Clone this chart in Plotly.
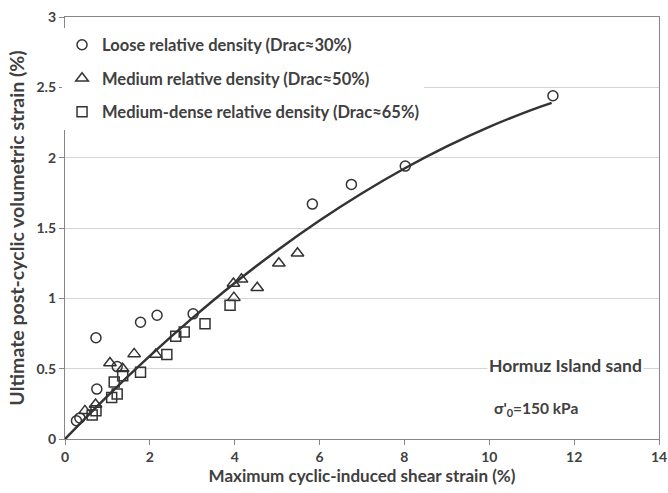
import plotly.graph_objects as go

# Loose relative density (Drac≈30%)
loose_x = [0.27, 0.35, 0.73, 0.75, 1.23, 1.78, 2.17, 3.02, 5.83, 6.75, 8.02, 11.50]
loose_y = [0.13, 0.15, 0.72, 0.355, 0.515, 0.83, 0.88, 0.89, 1.67, 1.81, 1.94, 2.44]

# Medium relative density (Drac≈50%)
medium_x = [0.47, 0.72, 1.06, 1.36, 1.63, 2.14, 3.97, 3.98, 4.16, 4.53, 5.04, 5.48]
medium_y = [0.20, 0.245, 0.54, 0.50, 0.605, 0.60, 1.105, 1.005, 1.135, 1.075, 1.25, 1.32]

# Medium-dense relative density (Drac≈65%)
dense_x = [0.64, 0.73, 1.10, 1.16, 1.23, 1.36, 1.78, 2.40, 2.61, 2.81, 3.30, 3.89]
dense_y = [0.17, 0.20, 0.295, 0.405, 0.32, 0.45, 0.475, 0.60, 0.73, 0.76, 0.82, 0.95]

# Trend curve
fit_x = [0, 1, 2, 3, 4, 5, 6, 7, 8, 9, 10, 11, 11.47]
fit_y = [0, 0.305, 0.591, 0.859, 1.109, 1.34, 1.553, 1.747, 1.923, 2.08, 2.219, 2.34, 2.39]

names = ["Loose relative density (Drac≈30%)",
         "Medium relative density (Drac≈50%)",
         "Medium-dense relative density (Drac≈65%)"]

FONT = "Lato"
TXT = "#404040"
MK = "#333333"
AX = "#868686"

fig = go.Figure()

fig.add_trace(go.Scatter(x=fit_x, y=fit_y, mode="lines", line=dict(color="#333333", width=2.5, shape="spline"),
                         showlegend=False, hoverinfo="skip"))

series = [(loose_x, loose_y, "circle-open", 10),
          (medium_x, medium_y, "triangle-up-open", 11),
          (dense_x, dense_y, "square-open", 10)]
for i, (xs, ys, sym, sz) in enumerate(series):
    fig.add_trace(go.Scatter(x=xs, y=ys, mode="markers", name=names[i], legendgroup=f"g{i}",
                             marker=dict(symbol=sym, size=sz, color=MK, line=dict(color=MK, width=1.5))))

fig.update_layout(
    width=668, height=493,
    margin=dict(l=65, r=9, t=17, b=54, autoexpand=False),
    plot_bgcolor="white", paper_bgcolor="white",
    font=dict(family=FONT, color=TXT, size=13),
    showlegend=True,
    legend=dict(x=-0.005, y=0.975, xanchor="left", yanchor="top", bgcolor="white",
                font=dict(family=FONT, size=16.5, color=TXT, weight="bold"), tracegroupgap=9,
                traceorder="grouped", itemsizing="trace"),
    xaxis=dict(range=[0, 14], dtick=2, tick0=0, showgrid=False, zeroline=False, automargin=False,
               showline=True, linecolor=AX, linewidth=1.3, mirror=True,
               ticks="outside", ticklen=5, tickcolor=AX,
               tickfont=dict(family=FONT, size=14, color=TXT, weight="bold"),
               title=dict(text="<b>Maximum cyclic-induced shear strain (%)</b>", standoff=6,
                          font=dict(family=FONT, size=17, color=TXT))),
    yaxis=dict(range=[0, 3], dtick=0.5, tick0=0, showgrid=True, gridcolor="#d4d4d4", gridwidth=1.3,
               zeroline=False, showline=True, linecolor=AX, linewidth=1.3, mirror=True, automargin=False,
               ticks="outside", ticklen=5, tickcolor=AX,
               tickfont=dict(family=FONT, size=14, color=TXT, weight="bold"),
               title=dict(text="<b>Ultimate post-cyclic volumetric strain (%)</b>", standoff=6,
                          font=dict(family=FONT, size=19.5, color=TXT))),
    annotations=[
        dict(text="<b>Hormuz Island sand</b>", xref="paper", yref="paper", x=0.842, y=0.175,
             xanchor="center", yanchor="middle", bgcolor="white",
             showarrow=False, font=dict(family=FONT, size=17.5, color=TXT)),
        dict(text="<b>σ'<sub>0</sub>=150 kPa</b>", xref="paper", yref="paper", x=0.793, y=0.071,
             xanchor="center", yanchor="middle",
             showarrow=False, font=dict(family=FONT, size=15.5, color=TXT)),
    ],
)

fig.write_html("out.html", config={"displayModeBar": False},
               post_script="document.body.style.margin='0';")
